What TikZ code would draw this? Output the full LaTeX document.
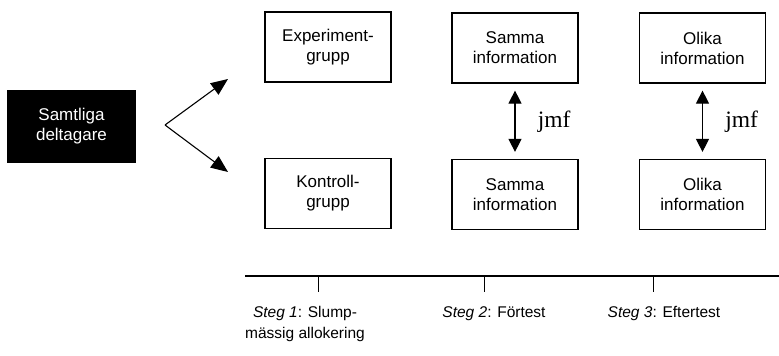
\documentclass[tikz,border=0pt]{standalone}
\usepackage{fontspec}
\setmainfont{Liberation Sans}
\newfontfamily\timesfont{Liberation Serif}
\usetikzlibrary{arrows.meta}

\begin{document}
\begin{tikzpicture}[x=1pt,y=-1pt,line width=1.2pt,
    box/.style={draw,minimum width=126pt,minimum height=70pt,align=center,font=\fontsize{17}{20}\selectfont},
    fork/.style={-{Triangle[length=17pt,width=14pt]},line width=1.1pt},
    both/.style={{Triangle[length=13pt,width=13pt]}-{Triangle[length=13pt,width=13pt]},line width=1.1pt},
    steglabel/.style={anchor=base,align=center,font=\fontsize{15.5}{21}\selectfont}]
                \useasboundingbox (0,0) rectangle (779,356);
                \node[box,fill=black,text=white,minimum width=127pt,minimum height=71pt] at (71.5,126.5) (alla) {Samtliga\\deltagare};
                \node[box] at (328,47) (exp) {Experiment-\\grupp};
                \node[box] at (328,193.5) (kon) {Kontroll-\\grupp};
                \node[box] at (515,48) (samma1) {Samma\\information};
                \node[box] at (515,194.5) (samma2) {Samma\\information};
                \node[box] at (702.5,48) (olika1) {Olika\\information};
                \node[box] at (702.5,194.5) (olika2) {Olika\\information};
                \coordinate (split) at (165,125);
                \coordinate (upp) at (228,79);
                \coordinate (ned) at (228,172);

                \path[fork] (split) edge[] (upp);
                \path[fork] (split) edge[] (ned);
                \path[both] (samma1) edge[shorten <=7pt,shorten >=7pt] node [right=19pt,font=\timesfont\fontsize{23.5}{24}\selectfont] {jmf} (samma2);
                \path[both] (olika1) edge[shorten <=7pt,shorten >=7pt] node [right=19pt,font=\timesfont\fontsize{23.5}{24}\selectfont] {jmf} (olika2);

                \draw[line width=1.6pt] (245,276) -- (779,276);
                \foreach \x in {318,484,653}
                    \draw[line width=1pt] (\x,276) -- (\x,292);
                \node[steglabel] at (305,338) (steg1) {\textit{Steg 1}: Slump-\\mässig allokering};
                \node[steglabel] at (494,317) (steg2) {\textit{Steg 2}: Förtest};
                \node[steglabel] at (664,317) (steg3) {\textit{Steg 3}: Eftertest};
            \end{tikzpicture}
\end{document}
